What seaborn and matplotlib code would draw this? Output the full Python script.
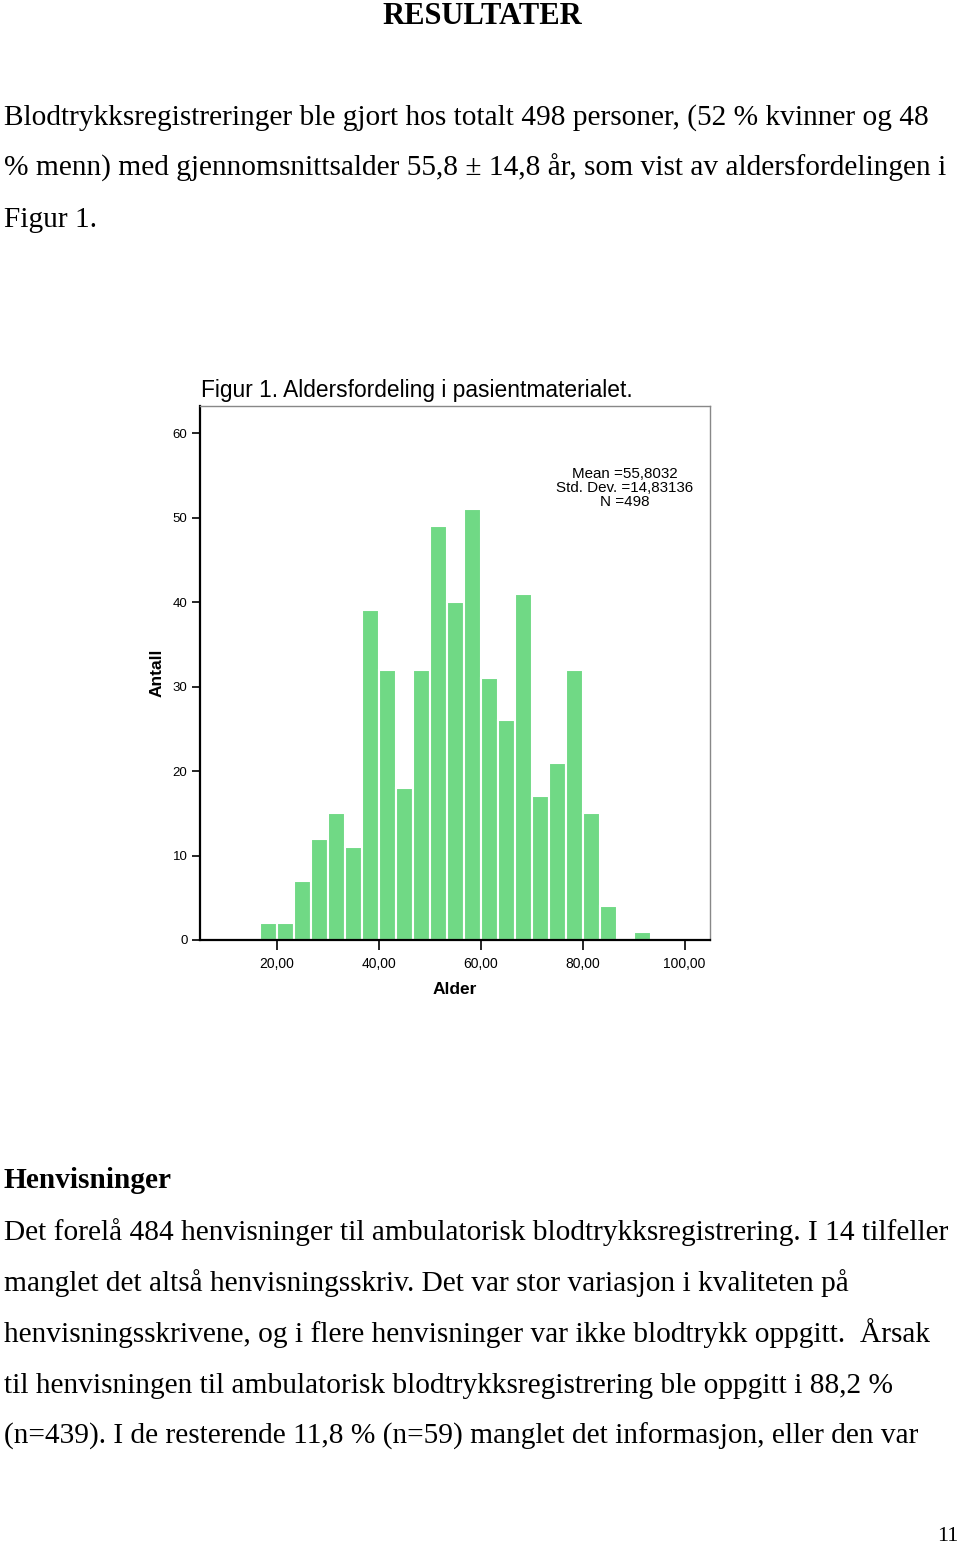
import matplotlib
matplotlib.use("Agg")
import numpy as np
import matplotlib.pyplot as plt
import seaborn as sns

# Age histogram, bin edges in years
bin_edges = [16.70, 20.03, 23.37, 26.70, 30.03, 33.37, 36.70, 40.03, 43.37, 46.70,
             50.03, 53.37, 56.70, 60.03, 63.37, 66.70, 70.03, 73.37, 76.70, 80.03,
             83.37, 86.70, 90.03, 93.37]
counts = [2, 2, 7, 12, 15, 11, 39, 32, 18, 32, 49, 40, 51, 31, 26, 41, 17, 21, 32, 15, 4, 0, 1]

x_ticks = [20, 40, 60, 80, 100]
y_ticks = [0, 10, 20, 30, 40, 50, 60]
stats_lines = ["Mean =55,8032", "Std. Dev. =14,83136", "N =498"]

para1 = [
    "Blodtrykksregistreringer ble gjort hos totalt 498 personer, (52 % kvinner og 48",
    "% menn) med gjennomsnittsalder 55,8 ± 14,8 år, som vist av aldersfordelingen i",
    "Figur 1.",
]
para2 = [
    "Det forelå 484 henvisninger til ambulatorisk blodtrykksregistrering. I 14 tilfeller",
    "manglet det altså henvisningsskriv. Det var stor variasjon i kvaliteten på",
    "henvisningsskrivene, og i flere henvisninger var ikke blodtrykk oppgitt.  Årsak",
    "til henvisningen til ambulatorisk blodtrykksregistrering ble oppgitt i 88,2 %",
    "(n=439). I de resterende 11,8 % (n=59) manglet det informasjon, eller den var",
]

sns.set_style("white")
plt.rcParams["font.family"] = ["Liberation Sans", "DejaVu Sans"]
plt.rcParams["text.color"] = "black"
plt.rcParams["axes.labelcolor"] = "black"
plt.rcParams["xtick.color"] = "black"
plt.rcParams["ytick.color"] = "black"

W, H = 960, 1543
fig = plt.figure(figsize=(W / 100, H / 100), dpi=100)

def fy(y):
    return 1 - y / H

serif = ["Liberation Serif", "DejaVu Serif"]
body_size = 21.15

fig.text(482 / W, fy(24), "RESULTATER", family=serif, fontsize=22, fontweight="bold",
         ha="center", va="baseline")
for i, line in enumerate(para1):
    fig.text(4 / W, fy(125 + 51 * i), line, family=serif, fontsize=body_size, va="baseline")

fig.text(4 / W, fy(1188), "Henvisninger", family=serif, fontsize=body_size, fontweight="bold",
         va="baseline")
for i, line in enumerate(para2):
    fig.text(4 / W, fy(1240 + 51 * i), line, family=serif, fontsize=body_size, va="baseline")

fig.text(958 / W, fy(1541), "11", family=serif, fontsize=16, ha="right", va="baseline")

fig.text(201 / W, fy(397), "Figur 1. Aldersfordeling i pasientmaterialet.", fontsize=16.4,
         va="baseline")

# chart
ax = fig.add_axes([200 / W, 1 - 940 / H, 510 / W, 534 / H])
centers = [(a + b) / 2 for a, b in zip(bin_edges[:-1], bin_edges[1:])]
sns.histplot(x=centers, weights=counts, bins=bin_edges, ax=ax, color="#70D985",
             alpha=1, edgecolor="white", linewidth=1.5)

ax.set_xlim(5, 105)
ax.set_ylim(0, 63.2)
ax.set_xticks(x_ticks)
ax.set_xticklabels([f"{t},00" for t in x_ticks], fontsize=10)
ax.set_yticks(y_ticks)
ax.set_yticklabels([str(t) for t in y_ticks], fontsize=9.5)
ax.tick_params(axis="both", direction="out", length=6, width=1.2, color="black",
               left=True, bottom=True, pad=3)
ax.tick_params(axis="x", length=7, pad=5)

for side in ["left", "bottom"]:
    ax.spines[side].set_color("black")
    ax.spines[side].set_linewidth(1.6)
for side in ["top", "right"]:
    ax.spines[side].set_color("#888888")
    ax.spines[side].set_linewidth(1.0)

ax.set_xlabel("Alder", fontsize=12.5, fontweight="bold", labelpad=8)
ax.set_ylabel("Antall", fontsize=12.5, fontweight="bold", labelpad=6)

ax.text(0.833, 0.846, "\n".join(stats_lines), transform=ax.transAxes, ha="center",
        va="center", fontsize=10.9, linespacing=1.0, multialignment="center")

fig.savefig("out.png", dpi=100, facecolor="white")
